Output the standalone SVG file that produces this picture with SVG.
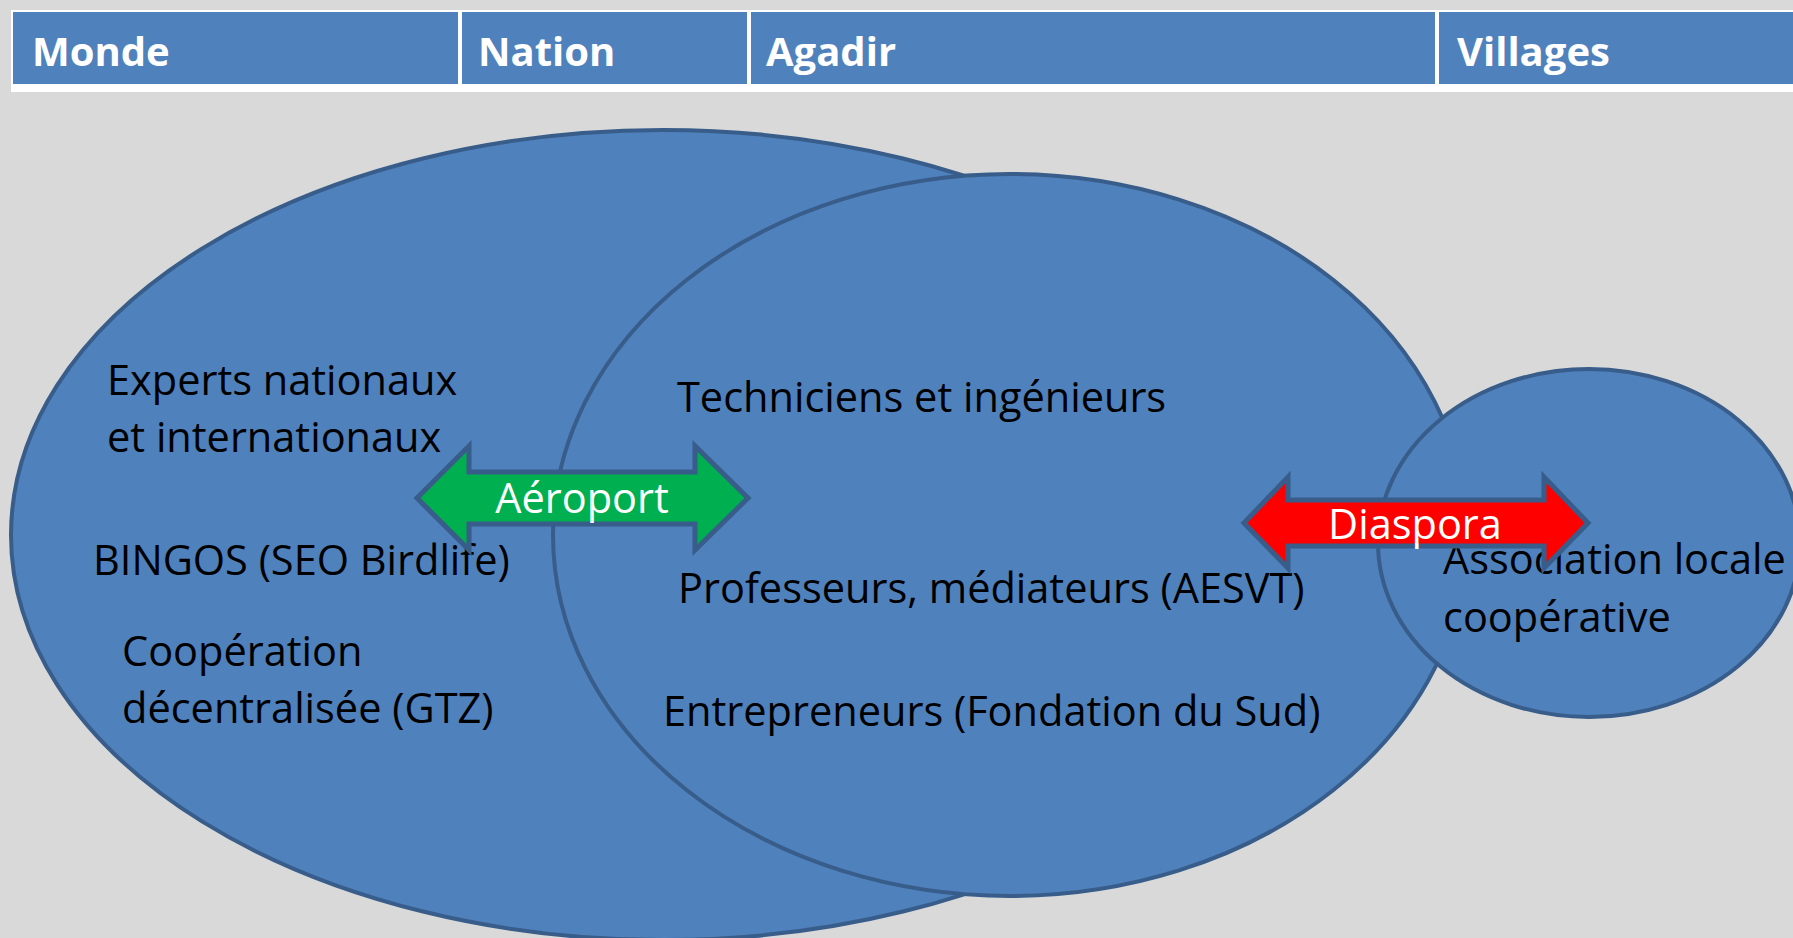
<svg xmlns="http://www.w3.org/2000/svg" width="1793" height="938" viewBox="0 0 1793 938">
<style>
.bg{fill:#D9D9D9}
.cell{fill:#4F81BD}
.hd{font-family:"Open Sans","Liberation Sans",sans-serif;font-weight:bold;font-size:40px;fill:#FFFFFF}
.ell{fill:#4F81BD;stroke:#385D8A;stroke-width:4}
.tx{font-family:"Open Sans","Liberation Sans",sans-serif;font-size:41.5px;fill:#000000}
.arr{stroke:#385D8A;stroke-width:5;stroke-linejoin:miter}
.al{font-family:"Open Sans","Liberation Sans",sans-serif;font-size:41.5px;fill:#FFFFFF;text-anchor:middle}
</style>
<rect class="bg" x="0" y="0" width="1793" height="938"/>
<g id="header">
<rect x="11" y="10" width="1782" height="82" fill="#FFFFFF"/>
<rect class="cell" x="13" y="12" width="445" height="72"/>
<rect class="cell" x="462" y="12" width="285" height="72"/>
<rect class="cell" x="751" y="12" width="684" height="72"/>
<rect class="cell" x="1439" y="12" width="354" height="72"/>
<text class="hd" x="32" y="66">Monde</text>
<text class="hd" x="478" y="66">Nation</text>
<text class="hd" x="766" y="66">Agadir</text>
<text class="hd" x="1457" y="66">Villages</text>
</g>
<g id="monde">
<ellipse class="ell" cx="663" cy="535" rx="652" ry="405"/>
</g>
<g id="agadir">
<ellipse class="ell" cx="1010" cy="535" rx="457" ry="361"/>
</g>
<g id="villages">
<ellipse class="ell" cx="1589" cy="543" rx="211" ry="174"/>
</g>
<g id="labels">
<text class="tx" x="107" y="395">Experts nationaux</text>
<text class="tx" x="107" y="452">et internationaux</text>
<text class="tx" x="93" y="575">BINGOS (SEO Birdlife)</text>
<text class="tx" x="122" y="666">Coopération</text>
<text class="tx" x="122" y="723">décentralisée (GTZ)</text>
<text class="tx" x="677" y="412">Techniciens et ingénieurs</text>
<text class="tx" x="678" y="603">Professeurs, médiateurs (AESVT)</text>
<text class="tx" x="663" y="726">Entrepreneurs (Fondation du Sud)</text>
<text class="tx" x="1443" y="574">Association locale</text>
<text class="tx" x="1443" y="632">coopérative</text>
</g>
<g id="connectors">
<g id="aeroport">
<polygon class="arr" fill="#00B050" points="417,498 469,446 469,472 695,472 695,446 748,498 695,550 695,524 469,524 469,550"/>
<text class="al" x="582" y="513">Aéroport</text>
</g>
<g id="diaspora">
<polygon class="arr" fill="#FF0000" points="1244,523 1288,477 1288,500 1544,500 1544,477 1588,523 1544,568 1544,546 1288,546 1288,568"/>
<text class="al" x="1415" y="539">Diaspora</text>
</g>
</g>
</svg>
